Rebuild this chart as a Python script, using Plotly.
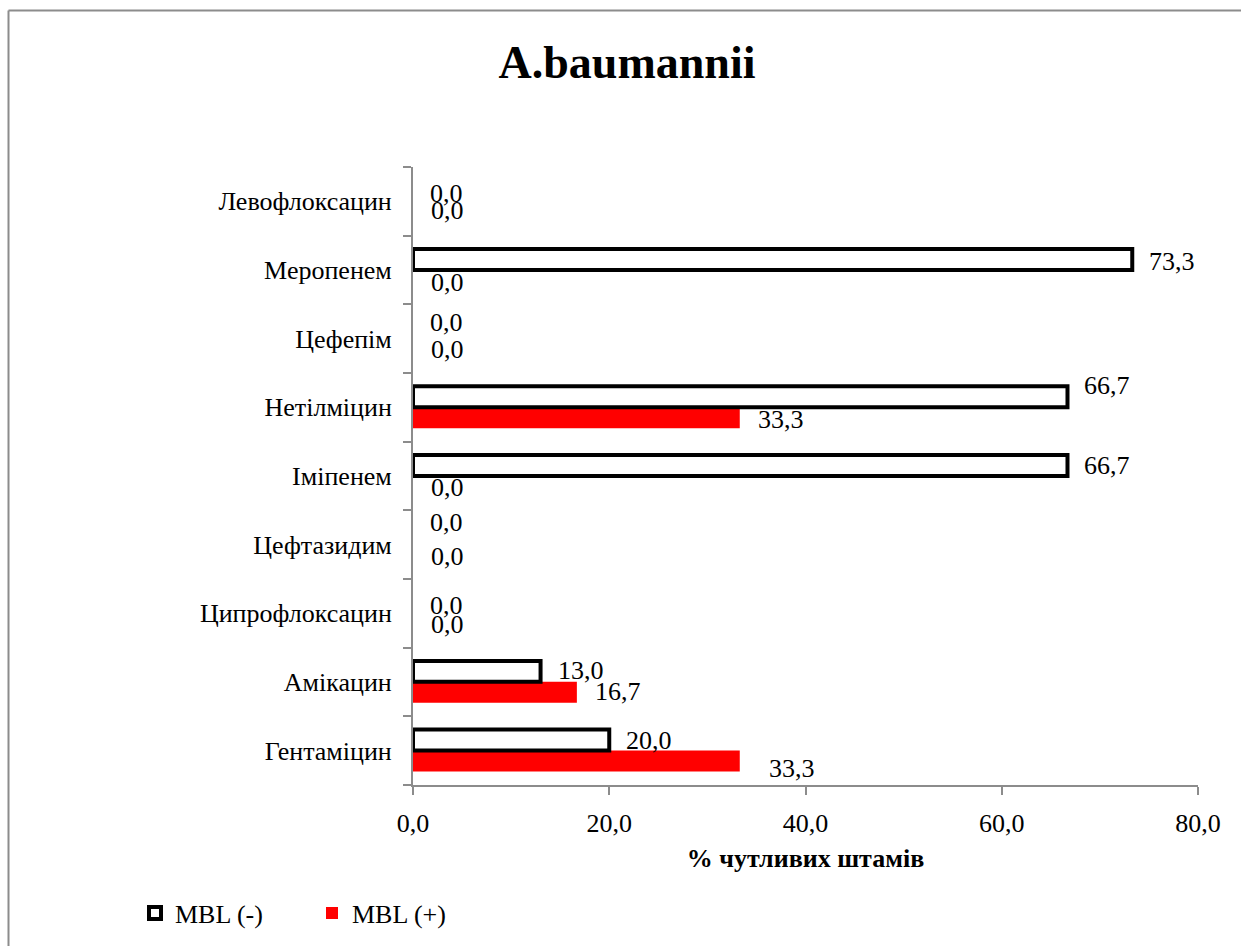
import plotly.graph_objects as go

categories = ["Гентаміцин", "Амікацин", "Ципрофлоксацин", "Цефтазидим", "Іміпенем",
              "Нетілміцин", "Цефепім", "Меропенем", "Левофлоксацин"]
mbl_neg = [20.0, 13.0, 0.0, 0.0, 66.7, 66.7, 0.0, 73.3, 0.0]
mbl_pos = [33.3, 16.7, 0.0, 0.0, 0.0, 33.3, 0.0, 0.0, 0.0]
x_ticks = [0, 20, 40, 60, 80]

# label placement (pixel shifts, style only) mimicking the original layout
neg_label_dy = [10, 11, 8, 22, 10, 22, 16, 8, 8]
pos_label_dy = [-18, -10, -11, -12, -12, -12, -11, -13, -9]
pos_label_dx = [27, 16, 16, 16, 16, 16, 16, 16, 16]

FONT = "Liberation Serif, Times New Roman, serif"
W, H = 1241, 946
L, R, T, B = 413, 43, 167, 161
PW, PH = W - L - R, H - T - B
FS = 26

def fmt(v):
    return f"{v:.1f}".replace(".", ",")

fig = go.Figure()
fig.add_trace(go.Bar(
    y=categories, x=mbl_pos, orientation="h", name="MBL (+)",
    marker=dict(color="#ff0000", line=dict(width=0)), legendrank=2,
))
fig.add_trace(go.Bar(
    y=categories, x=mbl_neg, orientation="h", name="MBL (-)",
    marker=dict(color="#ffffff",
                line=dict(color="#000000", width=[4 if v > 0 else 0 for v in mbl_neg])),
    legendrank=1,
))

annotations = []
for c, v, dy in zip(categories, mbl_neg, neg_label_dy):
    annotations.append(dict(x=v, y=c, xref="x", yref="y", text=fmt(v), showarrow=False,
                            xanchor="left", yanchor="middle", xshift=15, yshift=dy,
                            font=dict(family=FONT, size=FS, color="#000")))
for c, v, dy, dx in zip(categories, mbl_pos, pos_label_dy, pos_label_dx):
    annotations.append(dict(x=v, y=c, xref="x", yref="y", text=fmt(v), showarrow=False,
                            xanchor="left", yanchor="middle", xshift=dx, yshift=dy,
                            font=dict(family=FONT, size=FS, color="#000")))

def px2x(px):
    return (px - L) / PW

def py2y(py):
    return (H - B - py) / PH

shapes = [
    dict(type="line", xref="paper", yref="paper", x0=px2x(8.5), y0=py2y(10.5),
         x1=px2x(1260), y1=py2y(10.5), line=dict(color="#8c8c8c", width=2)),
    dict(type="line", xref="paper", yref="paper", x0=px2x(8.5), y0=py2y(10.5),
         x1=px2x(8.5), y1=py2y(960), line=dict(color="#8c8c8c", width=2)),
]

fig.update_layout(
    width=W, height=H,
    margin=dict(l=L, r=R, t=T, b=B, autoexpand=False),
    paper_bgcolor="#ffffff", plot_bgcolor="#ffffff",
    separators=", ",
    barmode="group", bargap=0.39, bargroupgap=0,
    font=dict(family=FONT, size=FS, color="#000"),
    title=dict(text="<b>A.baumannii</b>", x=627 / W, xanchor="center",
               y=1 - 62 / H, yanchor="middle",
               font=dict(family=FONT, size=46, color="#000")),
    xaxis=dict(range=[0, 80], tickvals=x_ticks, tickformat=".1f",
               showgrid=False, zeroline=False, showline=True, linecolor="#8c8c8c",
               linewidth=2, ticks="outside", ticklen=8, tickcolor="#8c8c8c", tickwidth=2,
               ticklabelstandoff=6,
               tickfont=dict(family=FONT, size=FS),
               title=dict(text="<b>% чутливих штамів</b>", standoff=12,
                          font=dict(family=FONT, size=FS))),
    yaxis=dict(showgrid=False, zeroline=False, showline=True, linecolor="#8c8c8c",
               linewidth=2, ticks="outside", ticklen=8, tickcolor="#8c8c8c", tickwidth=2,
               tickson="boundaries", ticklabelstandoff=14,
               tickfont=dict(family=FONT, size=FS)),
    legend=dict(orientation="h", x=px2x(135), xanchor="left", y=py2y(913), yanchor="middle",
                font=dict(family=FONT, size=FS), entrywidth=132, entrywidthmode="pixels",
                itemwidth=30, bgcolor="rgba(0,0,0,0)"),
    annotations=annotations,
    shapes=shapes,
    showlegend=True,
)

fig.write_html("out.html", config={"displayModeBar": False},
               post_script="document.body.style.margin='0';document.body.style.overflow='hidden';")
